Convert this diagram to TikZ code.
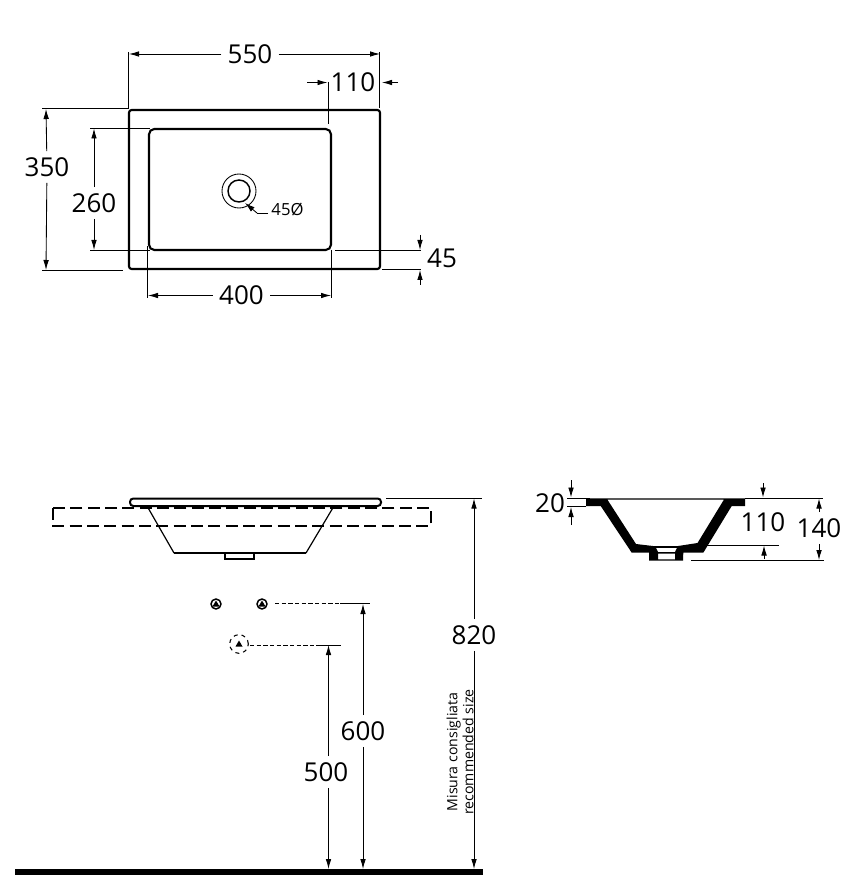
\documentclass[tikz,border=0pt]{standalone}
\usepackage{fontspec}
\setmainfont{Open Sans}
\usetikzlibrary{arrows.meta}
\tikzset{
  dimtext/.style={font=\fontsize{19.5}{21}\selectfont,inner sep=4.5pt},
  smalltext/.style={font=\fontsize{12.5}{14}\selectfont,inner sep=1pt},
  sidetext/.style={font=\fontsize{10.6}{12}\selectfont,inner sep=0pt,rotate=90,align=center},
  outline/.style={line width=1.6pt,rounded corners=2pt},
  thinline/.style={line width=0.65pt},
  dimarrow/.style={draw,line width=0.65pt,-{Latex[length=7.5pt,width=4.2pt]}},
  pipe/.style={circle,draw,line width=1.1pt,minimum size=7.5pt,inner sep=0pt},
  pipehidden/.style={circle,draw,dashed,line width=0.8pt,minimum size=14pt,inner sep=0pt}
}
\begin{document}
\begin{tikzpicture}[x=0.75pt,y=-0.75pt]
  \useasboundingbox (0,0) rectangle (846,887);

  % plan view
  \draw[outline] (129,110) rectangle (380,269);
  \draw[outline,rounded corners=4pt] (149,129) rectangle (331,250);
  \node[circle,draw,line width=0.65pt,minimum size=25.5pt,inner sep=0pt] (wasteout) at (239,191) {};
  \node[circle,draw,line width=1.1pt,minimum size=16.5pt,inner sep=0pt] (wastein) at (239,191) {};

  % front view
  \draw[line width=1.5pt,rounded corners=2.5pt] (130,498.5) rectangle (381,506);
  \draw[line width=1.3pt,dash pattern=on 9pt off 4pt] (53,508) rectangle (431,526);
  \draw[line width=0.9pt] (147,506) -- (174,553);
  \draw[line width=0.9pt] (334,506) -- (306,553);
  \draw[line width=1.3pt] (174,553) -- (306,553);
  \draw[line width=1.2pt] (225,553) -- (225,559) -- (254,559) -- (254,553);
  \fill (15,869) rectangle (483,875);

  % section
  \fill[even odd rule] (586,498.3) -- (745,498.3) -- (745,506) -- (731.7,506)
    -- (703.3,552.7) -- (683.3,552.7) -- (683,560.7) -- (649,560.7) -- (649,552.7)
    -- (631.7,552.7) -- (600.7,506) -- (586,506) -- cycle
    (607.3,499.5) -- (724,499.5) -- (697.5,543) -- (678,546) -- (653,546) -- (636,544) -- cycle
    (656,547.8) -- (677,547.8) -- (675,552) -- (658,552) -- cycle
    (658,553.5) rectangle (675,559.3);

  % pipes
  \foreach \name/\x in {pipeA/216,pipeB/262} {
    \node[pipe] (\name) at (\x,604) {};
    \fill (\x,600.5) -- (\x+3.5,606.5) -- (\x-3.5,606.5) -- cycle;
  }
  \node[pipehidden] (pipeC) at (239,644) {};
  \fill (239,640.5) -- (242.5,646.5) -- (235.5,646.5) -- cycle;

  % dimension texts
  \node[dimtext] (t550) at (250,54) {550};
  \node[dimtext] (t110a) at (353,82) {110};
  \node[dimtext] (t350) at (47,167) {350};
  \node[dimtext] (t260) at (94,203) {260};
  \node[dimtext] (t400) at (241.5,295.5) {400};
  \node[dimtext] (t45) at (442,258.5) {45};
  \node[smalltext] (t45d) at (287.5,210) {45Ø};
  \node[dimtext] (t820) at (474,635) {820};
  \node[dimtext] (t600) at (363,731) {600};
  \node[dimtext] (t500) at (326,772) {500};
  \node[dimtext] (t20) at (550,503) {20};
  \node[dimtext] (t110b) at (763,522) {110};
  \node[dimtext] (t140) at (819,528) {140};
  \node[sidetext] (tsize) at (460,752) {Misura consigliata\\recommended size};

  % end points
  \coordinate (a1) at (129,54);
  \coordinate (a2) at (380,54);
  \coordinate (a3) at (46,109);
  \coordinate (a4) at (46,270);
  \coordinate (a5) at (94,128.5);
  \coordinate (a6) at (94,250);
  \coordinate (a7) at (148,295.5);
  \coordinate (a8) at (331,295.5);
  \coordinate (a9) at (474,498.5);
  \coordinate (a10) at (474,869);
  \coordinate (a11) at (363,604);
  \coordinate (a12) at (363,869);
  \coordinate (a13) at (328.5,645);
  \coordinate (a14) at (328.5,869);
  \coordinate (a15) at (819,498.5);
  \coordinate (a16) at (819,560);

  \coordinate (b1) at (307,82.5);
  \coordinate (b2) at (327.5,82.5);
  \coordinate (b3) at (398,82.5);
  \coordinate (b4) at (382,82.5);
  \coordinate (b5) at (420,235);
  \coordinate (b6) at (420,250);
  \coordinate (b7) at (420,285);
  \coordinate (b8) at (420,270);
  \coordinate (b9) at (571,480);
  \coordinate (b10) at (571,497.5);
  \coordinate (b11) at (571,525);
  \coordinate (b12) at (571,507);
  \coordinate (b13) at (763,483);
  \coordinate (b14) at (763,497.5);
  \coordinate (b15) at (764,559);
  \coordinate (b16) at (764,545.5);
  \coordinate (l1) at (245,203);
  \coordinate (l2) at (257,213);
  \coordinate (l3) at (268,213);

  % extension lines
  \coordinate (e1a) at (128.5,52);   \coordinate (e1b) at (128.5,108);
  \coordinate (e2a) at (379.5,52);   \coordinate (e2b) at (379.5,108);
  \coordinate (e3a) at (328.5,82);   \coordinate (e3b) at (328.5,124);
  \coordinate (e4a) at (42,108);     \coordinate (e4b) at (128.5,108);
  \coordinate (e5a) at (42,270);     \coordinate (e5b) at (123,270);
  \coordinate (e6a) at (90,128.5);   \coordinate (e6b) at (150,128.5);
  \coordinate (e7a) at (90,250);     \coordinate (e7b) at (150,250);
  \coordinate (e8a) at (147.5,246);  \coordinate (e8b) at (147.5,298);
  \coordinate (e9a) at (331,250);    \coordinate (e9b) at (331,298);
  \coordinate (e10a) at (335,250);   \coordinate (e10b) at (421,250);
  \coordinate (e11a) at (382,269.5); \coordinate (e11b) at (421,269.5);
  \coordinate (e12a) at (386,498);   \coordinate (e12b) at (482,498);
  \coordinate (e13a) at (340,603.5); \coordinate (e13b) at (370,603.5);
  \coordinate (e14a) at (316,645);   \coordinate (e14b) at (341,645);
  \coordinate (e15a) at (567,498.5); \coordinate (e15b) at (590,498.5);
  \coordinate (e16a) at (567,506);   \coordinate (e16b) at (586,506);
  \coordinate (e17a) at (745,498.5); \coordinate (e17b) at (823,498.5);
  \coordinate (e18a) at (705,545.5); \coordinate (e18b) at (779,545.5);
  \coordinate (e19a) at (691,560.5); \coordinate (e19b) at (824,560.5);
  \coordinate (d1a) at (275,603.5);
  \coordinate (d2a) at (250,645);

  \begin{scope}[every edge/.style={dimarrow}]
    \path (t550) edge (a1);
    \path (t550) edge (a2);
    \path (t350) edge (a3);
    \path (t350) edge (a4);
    \path (t260) edge (a5);
    \path (t260) edge (a6);
    \path (t400) edge (a7);
    \path (t400) edge (a8);
    \path (t820) edge (a9);
    \path (t820) edge (a10);
    \path (t600) edge (a11);
    \path (t600) edge (a12);
    \path (t500.north -| a13) edge (a13);
    \path (t500.south -| a14) edge (a14);
    \path (t140) edge (a15);
    \path (t140) edge (a16);
    \path (b1) edge (b2);
    \path (b3) edge (b4);
    \path (b5) edge (b6);
    \path (b7) edge (b8);
    \path (b9) edge (b10);
    \path (b11) edge (b12);
    \path (b13) edge (b14);
    \path (b15) edge (b16);
    \path (l2) edge (l1);
  \end{scope}

  \begin{scope}[every edge/.style={draw,thinline}]
    \path (e1a) edge (e1b);
    \path (e2a) edge (e2b);
    \path (e3a) edge (e3b);
    \path (e4a) edge (e4b);
    \path (e5a) edge (e5b);
    \path (e6a) edge (e6b);
    \path (e7a) edge (e7b);
    \path (e8a) edge (e8b);
    \path (e9a) edge (e9b);
    \path (e10a) edge (e10b);
    \path (e11a) edge (e11b);
    \path (e12a) edge (e12b);
    \path (e13a) edge (e13b);
    \path (e14a) edge (e14b);
    \path (e15a) edge (e15b);
    \path (e16a) edge (e16b);
    \path (e17a) edge (e17b);
    \path (e18a) edge (e18b);
    \path (e19a) edge (e19b);
    \path (l3) edge (l2);
  \end{scope}

  \begin{scope}[every edge/.style={draw,thinline,dash pattern=on 3.2pt off 1.8pt}]
    \path (d1a) edge (e13a);
    \path (d2a) edge (e14a);
  \end{scope}

\end{tikzpicture}
\end{document}
